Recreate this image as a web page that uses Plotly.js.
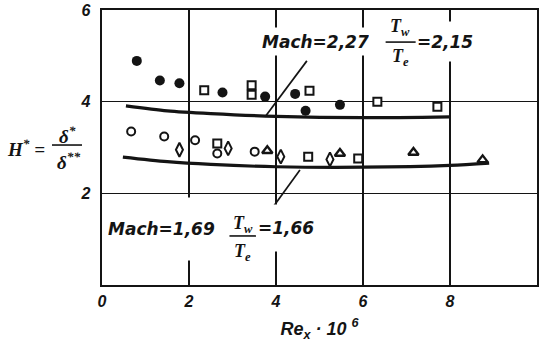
<!DOCTYPE html>
<html>
<head>
<meta charset="utf-8">
<script src="https://cdn.plot.ly/plotly-3.0.1.min.js"></script>
<style>html,body{margin:0;padding:0;background:#fff;}#chart{width:542px;height:357px;}</style>
</head>
<body>
<div id="chart"></div>
<script>
// ---- data ----
// Mach = 2,27  (Tw/Te = 2,15)
const filledCircleX = [0.80, 1.33, 1.78, 2.77, 3.75, 4.44, 4.68, 5.47];
const filledCircleY = [4.89, 4.46, 4.40, 4.20, 4.11, 4.17, 3.80, 3.93];
const upperSquareX  = [2.35, 3.44, 3.44, 4.77, 6.33, 7.71];
const upperSquareY  = [4.25, 4.36, 4.15, 4.24, 4.00, 3.89];
const upperCurveX   = [0.55, 1.5, 2.5, 4.0, 6.0, 8.0];
const upperCurveY   = [3.91, 3.80, 3.74, 3.68, 3.65, 3.67];
// Mach = 1,69  (Tw/Te = 1,66)
const openCircleX   = [0.67, 1.43, 2.14, 2.65, 3.51];
const openCircleY   = [3.35, 3.24, 3.16, 2.87, 2.91];
const lowerSquareX  = [2.65, 4.74, 5.89];
const lowerSquareY  = [3.09, 2.80, 2.76];
const diamondX      = [1.78, 2.90, 4.11, 5.24];
const diamondY      = [2.95, 2.98, 2.80, 2.74];
const triangleX     = [3.80, 5.47, 7.16, 8.75];
const triangleY     = [2.93, 2.87, 2.89, 2.73];
const lowerCurveX   = [0.48, 1.5, 2.5, 4.0, 6.0, 8.0, 8.9];
const lowerCurveY   = [2.79, 2.69, 2.63, 2.58, 2.57, 2.61, 2.66];
// leader lines (label -> curve)
const upperLeaderX  = [4.71, 3.75];
const upperLeaderY  = [4.89, 3.67];
const lowerLeaderX  = [4.55, 3.75];
const lowerLeaderY  = [2.51, 1.46];
// axes
const xTickVals = [0, 2, 4, 6, 8, 10];
const xTickText = ['0', '2', '4', '6', '8', '10'];
const yTickVals = [2, 4, 6];
const yTickText = ['2', '4', '6'];

const INK = '#141414';
const sansBI = {family: 'Liberation Sans, Arial, sans-serif', weight: 'bold', style: 'italic', color: INK};
const dejaBI = {family: 'DejaVu Sans, sans-serif', weight: 'bold', style: 'italic', color: INK};
const serifBI = {family: 'Liberation Serif, Times New Roman, serif', weight: 'bold', style: 'italic', color: INK};

function mk(x, y, symbol, size, fill, lw) {
  return {x: x, y: y, type: 'scatter', mode: 'markers', hoverinfo: 'skip', cliponaxis: false,
    marker: {symbol: symbol, size: size, color: fill, line: {color: INK, width: lw}}};
}
function ln(x, y, w, shape) {
  return {x: x, y: y, type: 'scatter', mode: 'lines', hoverinfo: 'skip',
    line: {color: INK, width: w, shape: shape || 'linear', smoothing: 0.8}};
}

const data = [
  ln(upperCurveX, upperCurveY, 3.2, 'spline'),
  ln(lowerCurveX, lowerCurveY, 3.2, 'spline'),
  ln(upperLeaderX, upperLeaderY, 1.7),
  ln(lowerLeaderX, lowerLeaderY, 1.7),
  mk(filledCircleX, filledCircleY, 'circle', 10, INK, 0),
  mk(upperSquareX, upperSquareY, 'square', 8, 'white', 2),
  mk(openCircleX, openCircleY, 'circle', 8, 'white', 2),
  mk(lowerSquareX, lowerSquareY, 'square', 8, 'white', 2),
  mk(diamondX, diamondY, 'diamond-tall', 10, 'white', 2),
  mk(triangleX, triangleY, 'triangle-up', 9, 'white', 2.4)
];

function ann(text, x, y, font, extra) {
  return Object.assign({text: text, x: x, y: y, xref: 'x', yref: 'y', showarrow: false,
    xanchor: 'center', yanchor: 'middle', font: font}, extra || {});
}
function pann(text, x, y, font, extra) {
  return Object.assign({text: text, x: x, y: y, xref: 'paper', yref: 'paper', showarrow: false,
    xanchor: 'center', yanchor: 'middle', font: font}, extra || {});
}

const annotations = [
  // upper label
  ann('=2,15', 7.89, 5.31, Object.assign({size: 17}, dejaBI), {bgcolor: 'white', height: 39, borderpad: 0}),
  ann('Mach=2,27', 4.90, 5.31, Object.assign({size: 17}, dejaBI), {bgcolor: 'white', height: 27, borderpad: 0}),
  ann('T<sub>w</sub>', 6.86, 5.62, Object.assign({size: 18}, serifBI)),
  ann('T<sub>e</sub>', 6.86, 4.96, Object.assign({size: 18}, serifBI)),
  // lower label
  ann('Mach=1,69', 1.36, 1.22, Object.assign({size: 17}, dejaBI), {bgcolor: 'white', height: 62, borderpad: 0}),
  ann('=1,66', 4.23, 1.24, Object.assign({size: 17}, dejaBI), {bgcolor: 'white', height: 46, borderpad: 0}),
  ann('T<sub>w</sub>', 3.24, 1.31, Object.assign({size: 18}, serifBI)),
  ann('T<sub>e</sub>', 3.24, 0.70, Object.assign({size: 18}, serifBI)),
  // y-axis label  H* = δ* / δ**
  pann('H<sup>*</sup> =', -0.175, 0.497, Object.assign({size: 19}, serifBI)),
  pann('δ<sup>*</sup>', -0.080, 0.545, Object.assign({size: 19}, serifBI)),
  pann('δ<sup>**</sup>', -0.078, 0.452, Object.assign({size: 19}, serifBI))
];

const shapes = [
  // fraction bars
  {type: 'line', xref: 'x', yref: 'y', x0: 6.52, x1: 7.21, y0: 5.30, y1: 5.30, line: {color: INK, width: 1.6}},
  {type: 'line', xref: 'x', yref: 'y', x0: 2.93, x1: 3.54, y0: 1.07, y1: 1.07, line: {color: INK, width: 1.6}},
  {type: 'line', xref: 'paper', yref: 'paper', x0: -0.115, x1: -0.046, y0: 0.509, y1: 0.509, line: {color: INK, width: 1.6}}
];

const layout = {
  width: 542, height: 357,
  margin: {l: 102, r: 5, t: 10, b: 72, pad: 0},
  paper_bgcolor: 'white', plot_bgcolor: 'white',
  showlegend: false,
  xaxis: {
    range: [0, 10], tickvals: xTickVals, ticktext: xTickText,
    showgrid: true, gridcolor: INK, gridwidth: 1.6, zeroline: false,
    showline: true, mirror: true, linecolor: INK, linewidth: 2.4, ticks: '',
    tickfont: Object.assign({size: 16}, sansBI),
    title: {text: 'Re<sub>x</sub> · 10 <sup>6</sup>', font: Object.assign({size: 18}, sansBI), standoff: 14},
    fixedrange: true
  },
  yaxis: {
    range: [0, 6], tickvals: yTickVals, ticktext: yTickText,
    showgrid: true, gridcolor: INK, gridwidth: 1.6, zeroline: false,
    showline: true, mirror: true, linecolor: INK, linewidth: 2.4, ticks: '',
    ticklabelstandoff: 6,
    tickfont: Object.assign({size: 16}, sansBI),
    fixedrange: true
  },
  annotations: annotations,
  shapes: shapes
};

Plotly.newPlot('chart', data, layout, {staticPlot: true, displayModeBar: false});
</script>
</body>
</html>
